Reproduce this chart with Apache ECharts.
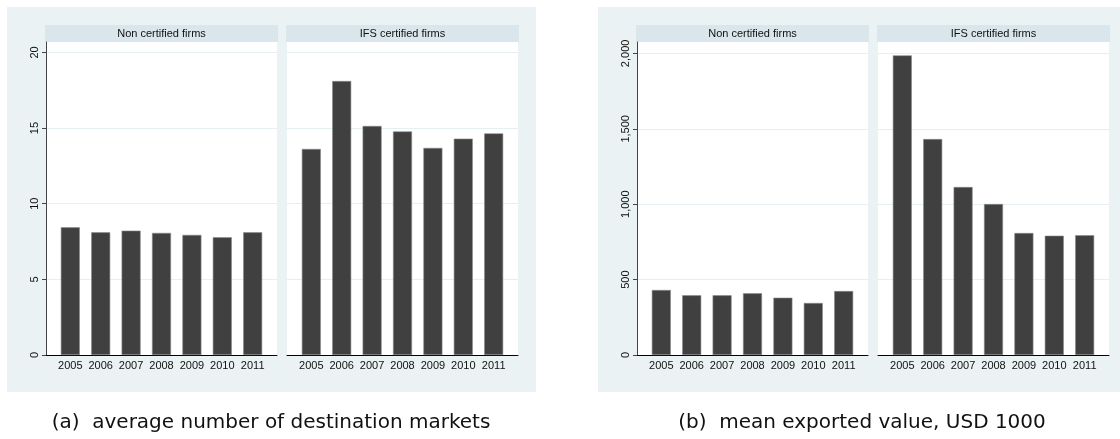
<!DOCTYPE html>
<html>
<head>
<meta charset="utf-8">
<script src="https://cdn.jsdelivr.net/npm/echarts@6/dist/echarts.min.js"></script>
<style>
html,body{margin:0;padding:0;background:#fff;}
#c{width:1120px;height:439px;}
</style>
</head>
<body>
<div id="c"></div>
<script>
// ---- data ----
const years = [2005, 2006, 2007, 2008, 2009, 2010, 2011];
const panelTitles = ['Non certified firms', 'IFS certified firms'];
const marketsNonCert = [8.44, 8.11, 8.22, 8.07, 7.94, 7.78, 8.11];
const marketsIFS = [13.62, 18.11, 15.14, 14.78, 13.69, 14.30, 14.65];
const valueNonCert = [431, 396, 396, 409, 380, 345, 424];
const valueIFS = [1987, 1432, 1114, 1001, 809, 791, 794];
const ticksMarkets = [0, 5, 10, 15, 20];
const ticksValue = [0, 500, 1000, 1500, 2000];
const captions = ['(a)  average number of destination markets', '(b)  mean exported value, USD 1000'];

// ---- layout ----
const BG = '#eaf2f3', STRIP = '#d9e6eb', BAR = '#404040';
const gridTop = 42, gridH = 313, gridW = 231;
const grids = [
  {left: 46, top: gridTop, width: gridW, height: gridH},
  {left: 287, top: gridTop, width: gridW, height: gridH},
  {left: 637, top: gridTop, width: gridW, height: gridH},
  {left: 878, top: gridTop, width: gridW, height: gridH}
];
const yMax = [20.69, 20.69, 2075.6, 2075.6];
const yTicks = [ticksMarkets, ticksMarkets, ticksValue, ticksValue];
const seriesData = [marketsNonCert, marketsIFS, valueNonCert, valueIFS];
const fontFam = '"Liberation Sans", Arial, Helvetica, sans-serif';

const xAxes = grids.map((g, i) => ({
  type: 'value', gridIndex: i, min: years[0] - 0.8, max: years[years.length - 1] + 0.8,
  axisLine: {show: true, onZero: false, lineStyle: {color: '#000', width: 1}},
  axisTick: {show: false},
  splitLine: {show: false},
  axisLabel: {show: true, customValues: years, color: '#111', fontSize: 11, fontFamily: fontFam, margin: 5,
    formatter: v => String(Math.round(v))}
}));
const yAxes = grids.map((g, i) => {
  const first = i % 2 === 0;
  return {
    type: 'value', gridIndex: i, min: 0, max: yMax[i],
    axisLine: {show: first, lineStyle: {color: '#444', width: 1}},
    axisTick: {show: first, length: 4, customValues: yTicks[i], lineStyle: {color: '#444'}},
    axisLabel: {show: first, customValues: yTicks[i], rotate: 90, color: '#111', fontSize: 11, fontFamily: fontFam, margin: 6,
      formatter: v => Math.round(v).toLocaleString('en-US')},
    splitLine: {show: true, lineStyle: {color: '#e6eff1', width: 1}}
  };
});
const series = grids.map((g, i) => ({
  type: 'bar', xAxisIndex: i, yAxisIndex: i, barWidth: 19,
  itemStyle: {color: BAR, borderColor: '#8a8a8a', borderWidth: 0.6},
  data: years.map((y, k) => [y, seriesData[i][k]]),
  silent: true, animation: false
}));

const graphic = [];
// chart backgrounds
[[7, 7], [598, 7]].forEach(p => graphic.push({type: 'rect', z: -10, shape: {x: p[0], y: p[1], width: 529, height: 385}, style: {fill: BG}}));
// white plot regions and strips
grids.forEach((g, i) => {
  graphic.push({type: 'rect', z: -9, shape: {x: g.left, y: gridTop, width: g.width, height: gridH}, style: {fill: '#fff'}});
  graphic.push({type: 'rect', z: -8, shape: {x: g.left - 1, y: 25, width: g.width + 2, height: 17}, style: {fill: STRIP}});
  graphic.push({type: 'text', z: 5, x: g.left + g.width / 2, y: 33.5,
    style: {text: panelTitles[i % 2], fill: '#111', font: '11px ' + fontFam, textAlign: 'center', textVerticalAlign: 'middle'}});
});
// captions
[[271, captions[0]], [862, captions[1]]].forEach(c => graphic.push({type: 'text', x: c[0], y: 423,
  style: {text: c[1], fill: '#111', font: '20px "DejaVu Sans", sans-serif', textAlign: 'center', textVerticalAlign: 'middle'}}));

const chart = echarts.init(document.getElementById('c'), null, {renderer: 'canvas'});
chart.setOption({
  animation: false,
  backgroundColor: '#fff',
  grid: grids,
  xAxis: xAxes,
  yAxis: yAxes,
  series: series,
  graphic: graphic
});
</script>
</body>
</html>
